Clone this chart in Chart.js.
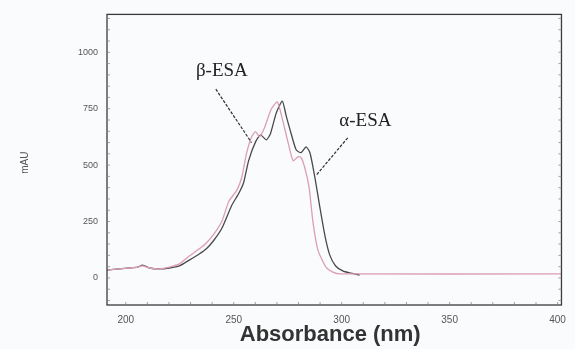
<!DOCTYPE html>
<html lang="en">
<head>
  <meta charset="UTF-8" />
  <title>UV spectra of alpha- and beta-ESA</title>
  <script src="https://cdn.jsdelivr.net/npm/chart.js"></script>
  <style>
    body { margin: 0; background: #fafbfc; }
    canvas { display: block; }
  </style>
</head>
<body>
  <canvas id="spectrum" width="575" height="349"></canvas>
  <script>
    // alpha-ESA (dark trace)
    const alphaNm = [191.3, 197.2, 201.8, 205.5, 207.8, 211, 215.6, 220.2, 224.8, 229.4, 234, 237.2, 240.8, 244.5,
      249.1, 252.3, 254.6, 256.9, 260.1, 262.4, 265.1, 267, 269.7, 272.5, 274.3, 276.6, 278.9, 281.2, 283.5,
      285.3, 287.6, 289.9, 292.2, 294.5, 297.2, 300.5, 303.7, 308.3];
    const alphaMau = [35, 40, 44, 48, 57, 44, 40, 44, 53, 79, 106, 128, 167, 220,
      322, 374, 423, 520, 603, 634, 612, 639, 731, 784, 718, 639, 568, 555, 581,
      555, 445, 313, 189, 101, 53, 31, 22, 13];

    // beta-ESA (pink trace)
    const betaNm = [191.3, 197.2, 201.8, 205.5, 207.8, 211, 215.6, 220.2, 224.8, 229.4, 233.9, 237.2, 240.8, 244.5,
      247.7, 251.4, 253.7, 256, 258.3, 260.1, 261.9, 264.2, 267.4, 270.2, 272.5, 275.2, 277.5, 279.8, 281.2, 283,
      284.9, 286.7, 289, 292.7, 295.9, 299.5, 401.8];
    const betaMau = [35, 40, 44, 48, 53, 44, 40, 48, 62, 97, 128, 154, 194, 251,
      339, 388, 445, 555, 626, 648, 626, 665, 749, 780, 705, 599, 520, 537, 533, 485,
      401, 247, 123, 48, 26, 18, 18];

    const xTicks = [200, 250, 300, 350, 400];
    const yTicks = [0, 250, 500, 750, 1000];

    // curve labels: text, label position, leader start, leader end (data units)
    const callouts = [
      { text: "β-ESA", at: [244.5, 916], from: [241.7, 837], to: [258.2, 600] },
      { text: "α-ESA", at: [311, 696], from: [302.8, 621], to: [288.1, 454] }
    ];

    const toPoints = (xs, ys) => xs.map((x, i) => ({ x: x, y: ys[i] }));

    const decor = {
      id: "decor",
      beforeDraw(chart) {
        const c = chart.ctx;
        c.save();
        c.fillStyle = "#fafbfc";
        c.fillRect(0, 0, chart.width, chart.height);
        c.restore();
      },
      afterDraw(chart) {
        const c = chart.ctx;
        const a = chart.chartArea;
        const xs = chart.scales.x;
        const ys = chart.scales.y;
        c.save();

        // frame
        c.strokeStyle = "#3a3a3a";
        c.lineWidth = 1.3;
        c.strokeRect(a.left, a.top, a.right - a.left, a.bottom - a.top);

        // small inward tick marks
        c.strokeStyle = "#8a8a8a";
        c.lineWidth = 0.8;
        c.beginPath();
        for (let v = -100; v <= 1150; v += 50) {
          const py = ys.getPixelForValue(v);
          c.moveTo(a.left, py); c.lineTo(a.left + 3, py);
          c.moveTo(a.right, py); c.lineTo(a.right - 3, py);
        }
        for (let v = 200; v <= 400; v += 10) {
          const px = xs.getPixelForValue(v);
          c.moveTo(px, a.bottom); c.lineTo(px, a.bottom - 3);
        }
        c.stroke();

        // callouts
        callouts.forEach(k => {
          c.strokeStyle = "#2e2e2e";
          c.lineWidth = 1.2;
          c.setLineDash([3, 1.5]);
          c.beginPath();
          c.moveTo(xs.getPixelForValue(k.from[0]), ys.getPixelForValue(k.from[1]));
          c.lineTo(xs.getPixelForValue(k.to[0]), ys.getPixelForValue(k.to[1]));
          c.stroke();
          c.setLineDash([]);
          c.fillStyle = "#222";
          c.font = "19px 'Liberation Serif', 'DejaVu Serif', serif";
          c.textAlign = "center";
          c.textBaseline = "middle";
          c.fillText(k.text, xs.getPixelForValue(k.at[0]), ys.getPixelForValue(k.at[1]));
        });

        // axis titles
        c.fillStyle = "#333";
        c.font = "bold 22px 'Liberation Sans', Arial, sans-serif";
        c.textAlign = "center";
        c.textBaseline = "middle";
        c.fillText("Absorbance (nm)", (a.left + a.right) / 2 - 4, 335);

        c.fillStyle = "#555";
        c.font = "10px 'Liberation Sans', Arial, sans-serif";
        c.translate(25, (a.top + a.bottom) / 2 + 3);
        c.rotate(-Math.PI / 2);
        c.fillText("mAU", 0, 0);
        c.restore();
      }
    };

    new Chart(document.getElementById("spectrum"), {
      type: "line",
      data: {
        datasets: [
          {
            label: "β-ESA",
            data: toPoints(betaNm, betaMau),
            borderColor: "#dc9fb2",
            borderWidth: 1.3,
            pointRadius: 0,
            tension: 0.2,
            fill: false
          },
          {
            label: "α-ESA",
            data: toPoints(alphaNm, alphaMau),
            borderColor: "#4a4a4a",
            borderWidth: 1.3,
            pointRadius: 0,
            tension: 0.2,
            fill: false
          }
        ]
      },
      options: {
        responsive: false,
        animation: false,
        layout: { padding: { top: 13, right: 9, left: 0, bottom: 0 } },
        plugins: {
          legend: { display: false },
          tooltip: { enabled: false }
        },
        scales: {
          x: {
            type: "linear",
            min: 191.3,
            max: 401.8,
            grid: { display: false, drawTicks: false },
            border: { display: false },
            afterBuildTicks: s => { s.ticks = xTicks.map(v => ({ value: v })); },
            afterFit: s => { s.height = 44; },
            ticks: {
              padding: 9,
              color: "#555",
              maxRotation: 0,
              callback: v => String(v),
              font: { family: "'Liberation Sans', Arial, sans-serif", size: 10 }
            }
          },
          y: {
            min: -120,
            max: 1168,
            grid: { display: false, drawTicks: false },
            border: { display: false },
            afterBuildTicks: s => { s.ticks = yTicks.map(v => ({ value: v })); },
            afterFit: s => { s.width = 107; },
            ticks: {
              padding: 9,
              color: "#555",
              callback: v => String(v),
              font: { family: "'Liberation Sans', Arial, sans-serif", size: 9 }
            }
          }
        }
      },
      plugins: [decor]
    });
  </script>
</body>
</html>
